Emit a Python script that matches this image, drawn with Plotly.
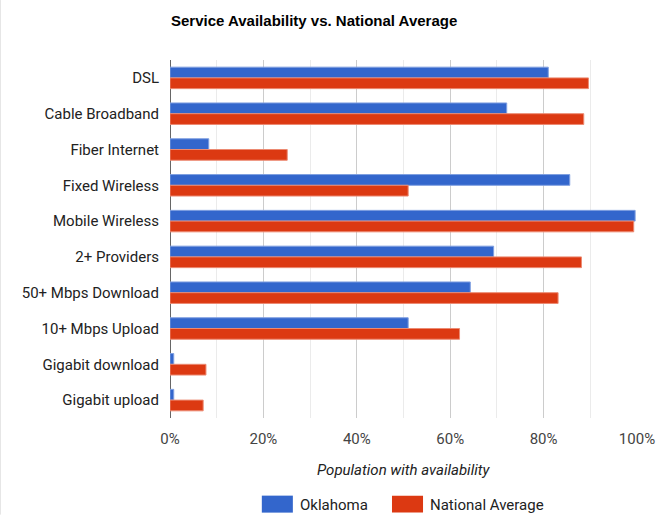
import plotly.graph_objects as go

categories = ["DSL", "Cable Broadband", "Fiber Internet", "Fixed Wireless", "Mobile Wireless",
              "2+ Providers", "50+ Mbps Download", "10+ Mbps Upload", "Gigabit download", "Gigabit upload"]
oklahoma = [81.0, 72.1, 8.3, 85.6, 99.6, 69.3, 64.3, 51.0, 0.8, 0.8]
national = [89.6, 88.6, 25.1, 51.0, 99.3, 88.1, 83.1, 62.0, 7.7, 7.1]
tick_vals = [0, 20, 40, 60, 80, 100]
tick_text = ["0%", "20%", "40%", "60%", "80%", "100%"]
series_names = ["Oklahoma", "National Average"]
series_colors = ["#3366CC", "#DC3912"]
edge_colors = ["#7f9fe0", "#ec8a72"]

W, H = 656, 515
L, R, T, B = 170.3, 19.3, 60, 96.7
pw, ph = W - L - R, H - T - B


def px(x):
    return (x - L) / pw


def py(y):
    return (T + ph - y) / ph


fig = go.Figure()
for vals, name, col, ec in zip([oklahoma, national], series_names, series_colors, edge_colors):
    fig.add_trace(go.Bar(y=categories, x=vals, orientation="h", name=name, showlegend=False,
                         marker=dict(color=col, line=dict(color=ec, width=1))))

shapes = [dict(type="line", xref="paper", yref="paper", x0=px(0.5), x1=px(0.5),
               y0=py(H), y1=py(0), line=dict(color="#cccccc", width=1))]
annotations = [dict(text="<i>Population with availability</i>", xref="paper", yref="paper",
                    x=0.5, y=py(470), xanchor="center", yanchor="middle", showarrow=False,
                    font=dict(size=15, color="#222"))]

# custom legend (wide swatches)
legend_x = [262, 392]
for lx, name, col in zip(legend_x, series_names, series_colors):
    shapes.append(dict(type="rect", xref="paper", yref="paper", x0=px(lx), x1=px(lx + 31),
                       y0=py(513), y1=py(496), fillcolor=col, line=dict(width=0)))
    annotations.append(dict(text=name, xref="paper", yref="paper", x=px(lx + 36), y=py(505),
                            xanchor="left", yanchor="middle", showarrow=False,
                            font=dict(size=15, color="#222")))

fig.update_layout(
    width=W, height=H, autosize=False,
    margin=dict(l=L, r=R, t=T, b=B, pad=0, autoexpand=False),
    paper_bgcolor="white", plot_bgcolor="white",
    barmode="group", bargap=0.4, bargroupgap=0,
    font=dict(family="Roboto, Arial, sans-serif", size=15, color="#222"),
    title=dict(text="<b>Service Availability vs. National Average</b>",
               font=dict(family="Liberation Sans Narrow, Arial Narrow, Liberation Sans, Arial", size=15, color="#000"),
               x=171 / W, xanchor="left", y=1 - 21 / H, yanchor="middle"),
    xaxis=dict(range=[0, 100], tickvals=tick_vals, ticktext=tick_text, showgrid=True, automargin=False,
               gridcolor="#cccccc", gridwidth=1, zeroline=True, zerolinecolor="#666666", zerolinewidth=1,
               minor=dict(dtick=10, showgrid=True, gridcolor="#ebebeb"),
               tickfont=dict(size=15, color="#444"), ticks="", ticklabelstandoff=10, fixedrange=True),
    yaxis=dict(autorange="reversed", ticks="", showgrid=False, tickfont=dict(size=15, color="#222"),
               ticklabelstandoff=10, showline=False, automargin=False, fixedrange=True),
    annotations=annotations,
    shapes=shapes,
)

fig.write_html("out.html", config={"displayModeBar": False},
               post_script="document.body.style.margin='0';document.body.style.padding='0';")
